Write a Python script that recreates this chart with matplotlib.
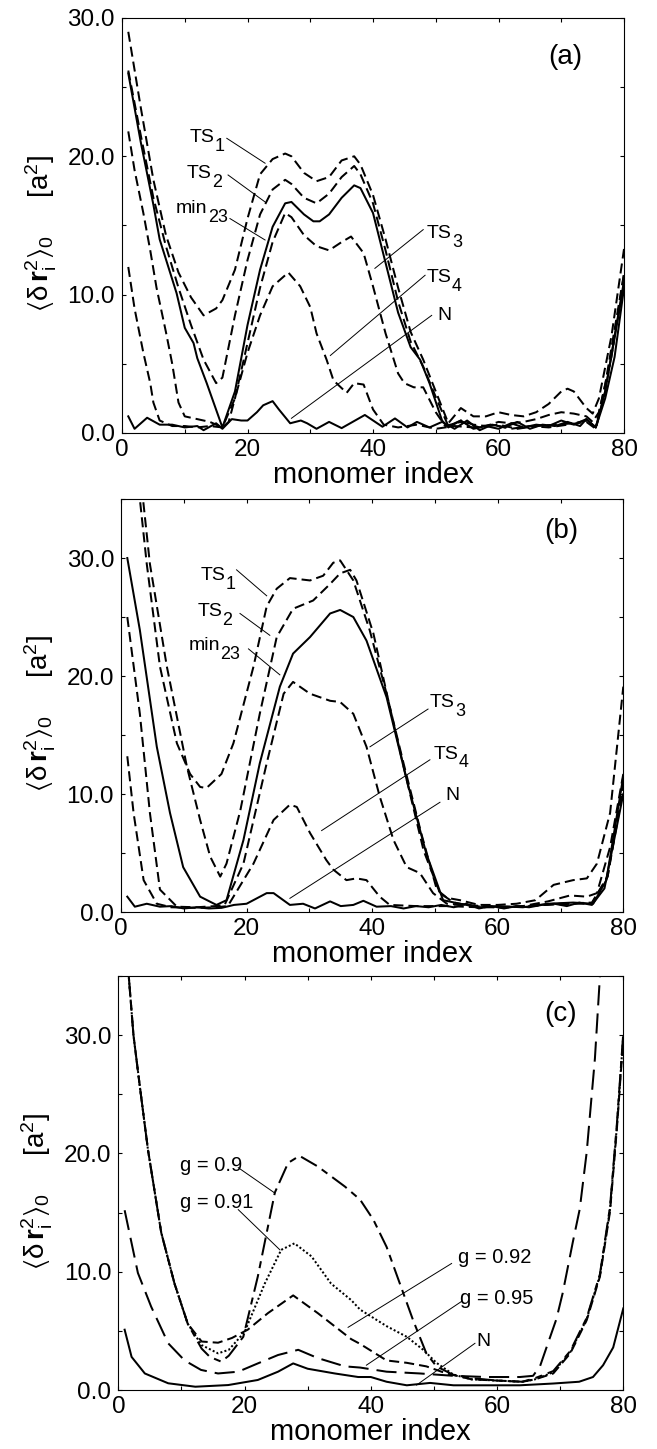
import matplotlib
matplotlib.use("Agg")
import matplotlib.pyplot as plt
from matplotlib.ticker import MultipleLocator, FormatStrFormatter

plt.rcParams["font.family"] = ["Liberation Sans", "DejaVu Sans"]
plt.rcParams["mathtext.fontset"] = "custom"
plt.rcParams["mathtext.rm"] = "Liberation Sans"
plt.rcParams["mathtext.bf"] = "Liberation Sans:bold"
plt.rcParams["mathtext.it"] = "Liberation Sans:italic"
plt.rcParams["mathtext.default"] = "regular"

# %% data ----------------------------------------------------------------
# panel (a)
a_ts1_x = [1, 3, 5, 7, 9, 11, 13, 15, 16, 18, 20, 22, 24, 26, 27, 29, 31, 33, 35, 37, 38,
           40, 42, 44, 46, 48, 50, 52, 54, 56, 58, 60, 62, 64, 66, 68, 70, 71, 72, 74, 75, 76, 78, 80]
a_ts1_y = [29.0, 23.5, 18.3, 14.3, 11.6, 9.8, 8.5, 9.0, 9.6, 11.8, 15.5, 18.7, 19.8, 20.2, 20.0,
           18.8, 18.2, 18.5, 19.7, 20.0, 19.4, 17.2, 14.0, 10.5, 7.3, 5.3, 3.0, 0.7, 1.8, 1.2, 1.2,
           1.5, 1.3, 1.2, 1.5, 2.1, 3.0, 3.2, 3.0, 1.8, 1.4, 2.5, 7.0, 13.3]
a_ts2_x = [1, 3, 5, 7, 9, 11, 13, 15, 16, 18, 20, 22, 24, 26, 27, 29, 31, 33, 35, 37, 38,
           40, 42, 44, 46, 48, 50, 52, 54, 56, 58, 60, 62, 64, 66, 68, 70, 72, 74, 75, 76, 78, 80]
a_ts2_y = [26.2, 21.5, 17.0, 13.5, 10.5, 7.8, 5.3, 3.6, 4.0, 8.5, 12.5, 15.8, 17.6, 18.3, 18.0,
           17.0, 16.6, 17.3, 18.5, 19.3, 18.7, 16.6, 13.2, 9.5, 6.6, 4.8, 2.6, 0.5, 0.9, 0.6, 0.5,
           0.8, 0.7, 0.8, 1.0, 1.3, 1.5, 1.4, 1.2, 0.8, 1.5, 5.5, 11.5]
a_min_x = [1, 3, 5, 6, 8.7, 10, 11.4, 12, 13.5, 16, 18, 20, 22, 24, 26, 27, 29, 30.5, 31.5, 33,
           35, 37, 38, 40, 42, 44, 46, 47.5, 49, 51, 52, 54, 56, 58, 60, 62, 64, 66, 68, 70, 72,
           74, 75.5, 77, 80]
a_min_y = [26.0, 21.0, 16.5, 14.0, 10.1, 7.6, 6.5, 5.4, 3.6, 0.4, 3.0, 7.8, 11.8, 14.9, 16.6,
           16.7, 15.8, 15.3, 15.3, 15.8, 17.0, 17.9, 17.7, 15.9, 12.3, 8.7, 6.2, 5.3, 3.6, 0.9,
           0.4, 0.9, 0.3, 0.5, 0.3, 0.7, 0.4, 0.6, 0.5, 0.9, 0.6, 1.0, 0.4, 3.0, 10.8]
a_ts3_x = [1, 2, 3.4, 4.5, 5.5, 7, 8, 9, 10, 12, 14, 16, 17, 18, 20, 22, 24, 26, 27, 29, 31,
           33, 35, 36.5, 38.5, 40, 42, 44, 45, 46.5, 48, 50, 51.5, 54, 57, 60, 63, 66, 69, 72,
           74, 75.5, 77, 80]
a_ts3_y = [21.8, 19.0, 15.9, 13.2, 10.5, 7.3, 5.0, 2.2, 1.2, 1.0, 0.8, 0.4, 0.8, 2.5, 6.5,
           10.5, 13.8, 15.9, 15.6, 14.3, 13.5, 13.2, 13.8, 14.2, 13.0, 10.6, 7.2, 4.3, 3.6, 3.3,
           3.3, 1.5, 0.5, 0.8, 0.4, 0.6, 0.3, 0.5, 0.6, 0.7, 0.9, 0.4, 3.5, 11.5]
a_ts4_x = [1, 2, 3.4, 4.5, 5, 6, 8, 10, 12, 14, 16, 18, 20, 22, 24, 26.5, 28.4, 30, 31, 32.6,
           33.7, 35.8, 37, 38.5, 40, 41.7, 44, 47, 50, 53, 56, 59, 62, 65, 68, 71, 74, 75.5, 77, 80]
a_ts4_y = [12.0, 9.0, 5.8, 3.6, 2.2, 0.9, 0.5, 0.5, 0.4, 0.5, 0.4, 2.5, 5.8, 8.5, 10.6, 11.6,
           10.6, 9.1, 7.2, 5.3, 3.8, 2.9, 3.6, 3.5, 1.7, 0.6, 0.4, 0.6, 0.3, 0.5, 0.4, 0.6, 0.3,
           0.5, 0.4, 0.6, 0.8, 0.3, 3.0, 11.0]
a_n_x = [1, 2, 4, 6, 8, 10, 12, 13, 15, 16, 17.5, 19, 20, 21.5, 22.5, 24, 25, 26.8, 28.5, 29.5,
         31, 33, 35, 38.7, 41.5, 43.5, 45.5, 47, 49, 51, 53, 55, 57, 59, 61, 63, 65, 67, 69, 71,
         73, 74, 75.5, 77, 78.5, 80]
a_n_y = [1.2, 0.3, 1.1, 0.6, 0.6, 0.4, 0.5, 0.2, 0.7, 0.3, 1.0, 0.9, 0.9, 1.5, 2.0, 2.3, 1.7,
         0.7, 0.9, 0.7, 0.3, 0.8, 0.35, 1.3, 0.45, 1.05, 0.4, 0.8, 0.4, 0.8, 0.3, 0.9, 0.2, 0.6,
         0.4, 0.8, 0.3, 0.6, 0.5, 0.8, 0.5, 1.0, 0.4, 2.5, 5.5, 10.5]

# panel (b)
b_ts1_x = [2.8, 4.1, 6.2, 8.9, 11, 12.6, 13.6, 16, 17.9, 21.1, 23.2, 24.8, 26.9, 30.1, 32.2,
           33.8, 34.9, 37, 39.6, 42.3, 45, 47.8, 50.3, 51.9, 54, 57, 60, 63, 66, 68.9, 72, 74.2,
           75.8, 77.9, 80]
b_ts1_y = [36.0, 29.5, 20.8, 14.3, 11.7, 10.6, 10.5, 11.7, 14.3, 20.8, 25.9, 27.4, 28.3, 28.1,
           28.5, 29.6, 29.8, 28.1, 23.9, 18.5, 12.6, 6.7, 1.9, 1.2, 1.0, 0.6, 0.6, 0.7, 1.0, 2.3,
           2.7, 2.85, 4.1, 8.4, 19.1]
b_ts2_x = [3.3, 4.6, 7.3, 10.5, 12.6, 14.2, 15.8, 16.8, 19, 22.1, 24.8, 27.4, 30.6, 33.3, 34.9,
           36.5, 37.5, 40.2, 42.8, 45.5, 48.2, 50.8, 53, 56, 60, 64, 68, 71.5, 74.2, 75.8, 77.9, 80]
b_ts2_y = [36.0, 29.5, 20.8, 12.3, 7.8, 4.7, 3.0, 4.1, 8.6, 16.8, 23.3, 25.7, 26.4, 27.8, 28.7,
           29.0, 28.1, 23.6, 17.4, 11.2, 5.2, 1.6, 0.8, 0.5, 0.4, 0.5, 0.9, 1.4, 1.3, 1.6, 5.5, 11.7]
b_min_x = [1, 3, 5.7, 7.8, 9.9, 12.6, 15.2, 16.8, 19.5, 22.1, 25.3, 27.4, 30.1, 33.3, 34.9, 37,
           39.1, 42.3, 45.5, 48.6, 51.3, 54, 57, 60, 64, 68, 72, 75.2, 77.3, 80]
b_min_y = [30.0, 23.9, 14.0, 8.4, 3.8, 1.3, 0.6, 1.0, 6.1, 12.6, 19.1, 21.9, 23.3, 25.3, 25.6,
           25.0, 23.0, 18.2, 11.2, 5.0, 1.0, 0.7, 0.4, 0.5, 0.4, 0.7, 0.8, 0.7, 2.7, 11.5]
b_ts3_x = [1, 3, 4.6, 6.2, 8.9, 12, 15, 16.5, 19.5, 23.2, 25.9, 27.4, 30.1, 33.3, 34.9, 37, 39.1,
           41.2, 43.4, 45.5, 47.6, 49.7, 51.9, 55, 60, 65, 70, 75, 77.5, 80]
b_ts3_y = [25.0, 16.8, 8.4, 1.9, 0.45, 0.4, 0.5, 0.6, 4.1, 12.6, 18.5, 19.5, 18.5, 17.9, 17.8,
           16.8, 14.0, 9.8, 6.1, 3.8, 3.3, 1.6, 0.7, 0.6, 0.4, 0.5, 0.7, 0.8, 3.0, 11.0]
b_ts4_x = [1, 2, 3.6, 5.7, 8, 12, 15, 17, 21.1, 24.3, 26.9, 28, 30.1, 32.7, 33.8, 35.9, 37.5,
           39.1, 41.2, 42.8, 47, 52, 57, 62, 67, 72, 75, 77.5, 80]
b_ts4_y = [13.2, 8.4, 2.7, 0.7, 0.4, 0.35, 0.4, 0.5, 4.1, 7.8, 9.1, 8.9, 6.7, 4.4, 3.6, 2.7,
           2.85, 2.7, 1.3, 0.6, 0.5, 0.5, 0.4, 0.4, 0.6, 0.7, 0.7, 3.0, 10.5]
b_n_x = [1, 2.2, 4.1, 6.2, 8, 10, 12, 14, 16, 18, 20, 23.2, 24.3, 26.9, 29, 30.9, 33.3, 35, 37,
         38.6, 40.7, 43, 45, 47, 49, 51, 53, 55, 57, 59, 61, 63, 65, 67, 69, 71, 73, 75, 77, 80]
b_n_y = [1.3, 0.45, 0.7, 0.45, 0.5, 0.3, 0.4, 0.3, 0.35, 0.6, 0.7, 1.6, 1.6, 0.6, 0.7, 0.3, 0.9,
         0.5, 0.6, 0.95, 0.45, 0.5, 0.3, 0.5, 0.4, 0.6, 0.4, 0.7, 0.3, 0.5, 0.3, 0.5, 0.4, 0.6,
         0.7, 0.5, 0.8, 0.6, 2.0, 10.0]

# panel (c)
c_g090_x = [1.2, 2.4, 3.4, 4.7, 6.8, 8.9, 11.0, 13.2, 14.5, 16.3, 17.5, 19.8, 22.1, 24.8, 26.9,
            28.7, 31.6, 35.9, 38.3, 40.4, 42.5, 44.6, 46.7, 48.8, 50.4, 53, 56, 60, 64, 66,
            68.9, 71.6, 74.2, 76.3, 77.9, 79, 80]
c_g090_y = [38.0, 30.0, 25.7, 20.3, 13.3, 9.0, 5.6, 3.5, 2.8, 2.4, 2.9, 4.5, 9.6, 16.7, 19.2,
            19.8, 18.9, 17.2, 16.1, 14.4, 12.1, 9.0, 5.9, 3.1, 2.0, 1.3, 1.0, 0.8, 0.7, 1.0, 1.6,
            3.3, 6.1, 9.8, 15.5, 22.6, 30.2]
c_g091_x = [1.2, 2.4, 3.4, 4.7, 6.8, 8.9, 11.0, 13.2, 15.8, 17.5, 20, 23.2, 25.8, 27.9, 30.6,
            33.7, 36.9, 38.3, 42.5, 45.7, 48.3, 50.4, 53.1, 56, 60, 64, 66, 68.9, 71.6, 74.2,
            76.3, 77.9, 79, 80]
c_g091_y = [38.0, 30.0, 25.7, 20.3, 13.3, 9.0, 5.6, 3.8, 3.1, 3.4, 4.9, 9.0, 11.85, 12.4, 11.3,
            9.0, 7.6, 6.8, 5.4, 4.5, 3.4, 2.3, 1.3, 0.9, 0.8, 0.7, 0.9, 1.5, 3.2, 6.0, 9.7, 15.3,
            22.4, 30.0]
c_g092_x = [1.2, 2.4, 3.4, 4.7, 6.8, 8.9, 11.0, 13.2, 15.8, 18, 20.5, 23.7, 27.7, 31.6, 36.9,
            38.3, 42.5, 45.7, 48.8, 52, 56, 60, 64, 66, 68.9, 71.6, 74.2, 76.3, 77.9, 79, 80]
c_g092_y = [38.0, 30.0, 25.7, 20.3, 13.3, 9.0, 5.6, 4.1, 4.0, 4.4, 5.1, 6.5, 8.0, 6.5, 4.3, 3.9,
            2.5, 2.3, 2.0, 1.4, 0.9, 0.8, 0.7, 0.9, 1.4, 3.1, 5.9, 9.6, 15.1, 22.2, 29.8]
c_g095_x = [1, 3.1, 5.2, 7.9, 10.5, 13.1, 15.8, 19, 22.1, 25.3, 28.5, 31.6, 35.9, 38.3, 42.5,
            47.8, 53.1, 58.3, 63.6, 65.7, 66.8, 67.9, 69.4, 70.4, 72, 73.1, 74.2, 75.5, 76.3, 76.8]
c_g095_y = [15.2, 9.9, 7.05, 3.95, 2.5, 1.7, 1.4, 1.55, 2.25, 2.96, 3.4, 2.7, 2.0, 1.9, 1.55,
            1.4, 1.2, 1.1, 1.1, 1.2, 2.0, 3.7, 6.0, 8.2, 12.5, 15.3, 20.1, 28.0, 35.0, 39.0]
c_n_x = [1, 2.1, 4.2, 7.9, 12.2, 17.4, 22.1, 25.3, 27.7, 30, 34.3, 38, 40, 42.5, 45.7, 49.4,
         53.1, 58.3, 63.6, 68.9, 73, 75.2, 76.8, 78.4, 80]
c_n_y = [5.1, 2.8, 1.4, 0.57, 0.28, 0.42, 0.85, 1.55, 2.25, 1.8, 1.4, 1.1, 1.1, 0.7, 0.4, 0.6,
         0.4, 0.4, 0.4, 0.55, 0.7, 1.1, 2.1, 3.6, 6.9]

# %% styles ---------------------------------------------------------------
LW = 1.45
DASH = (5, 2.5)
ylabel = r"$\langle\delta\,\mathbf{r}_{i}^{2}\rangle_{0}$     [a$^{2}$]"

fig = plt.figure(figsize=(6.57, 14.49), dpi=100)
ax_a = fig.add_axes([0.1857, 0.7012, 0.7641, 0.2864])
ax_b = fig.add_axes([0.1842, 0.3706, 0.7645, 0.2850])
ax_c = fig.add_axes([0.1801, 0.0407, 0.7686, 0.2857])


def style_axes(ax, ymax):
    ax.set_xlim(0, 80)
    ax.set_ylim(0, ymax)
    ax.xaxis.set_major_locator(MultipleLocator(20))
    ax.xaxis.set_minor_locator(MultipleLocator(10))
    ax.yaxis.set_major_locator(MultipleLocator(10))
    ax.yaxis.set_minor_locator(MultipleLocator(5))
    ax.yaxis.set_major_formatter(FormatStrFormatter("%.1f"))
    ax.tick_params(which="both", direction="in", top=True, right=True, length=3, width=0.8)
    ax.tick_params(axis="y", labelsize=17.5, pad=5)
    ax.tick_params(axis="x", labelsize=17.5, pad=4)
    for s in ax.spines.values():
        s.set_linewidth(0.8)
    ax.set_xlabel("monomer index", fontsize=21)
    ax.xaxis.set_label_coords(0.5, -0.068)
    ax.set_ylabel(ylabel, fontsize=20)
    ax.yaxis.set_label_coords(-0.125, 0.48)


def sub_label(ax, x, y, main, sub, size=14):
    t = ax.text(x, y, main, fontsize=size, ha="left", va="baseline")
    ax.annotate(sub, xy=(1, 0), xycoords=t, xytext=(0.3, -3.5), textcoords="offset points",
                fontsize=size * 0.92, ha="left", va="baseline")


def leader(ax, x0, y0, x1, y1):
    ax.plot([x0, x1], [y0, y1], color="black", lw=0.7)


# %% panel (a)
ax = ax_a
ax.plot(a_ts1_x, a_ts1_y, color="black", lw=LW, dashes=DASH)
ax.plot(a_ts2_x, a_ts2_y, color="black", lw=LW, dashes=DASH)
ax.plot(a_min_x, a_min_y, color="black", lw=LW)
ax.plot(a_ts3_x, a_ts3_y, color="black", lw=LW, dashes=DASH)
ax.plot(a_ts4_x, a_ts4_y, color="black", lw=LW, dashes=DASH)
ax.plot(a_n_x, a_n_y, color="black", lw=LW)
style_axes(ax, 30)

sub_label(ax, 10.8, 21.0, "TS", "1")
leader(ax, 16.7, 21.3, 22.8, 19.5)
sub_label(ax, 10.3, 18.4, "TS", "2")
leader(ax, 16.9, 18.65, 22.8, 16.7)
sub_label(ax, 8.6, 15.9, "min", "23")
leader(ax, 17.2, 15.5, 22.8, 13.95)
sub_label(ax, 48.55, 14.1, "TS", "3")
leader(ax, 48.0, 14.7, 40.3, 11.9)
sub_label(ax, 48.55, 10.9, "TS", "4")
leader(ax, 48.3, 11.4, 33.2, 5.6)
ax.text(50.25, 8.2, "N", fontsize=14, ha="left", va="baseline")
leader(ax, 49.35, 8.5, 27.0, 1.06)
ax.text(70.6, 27.2, "(a)", fontsize=20, ha="center", va="center")

# %% panel (b)
ax = ax_b
ax.plot(b_ts1_x, b_ts1_y, color="black", lw=LW, dashes=DASH)
ax.plot(b_ts2_x, b_ts2_y, color="black", lw=LW, dashes=DASH)
ax.plot(b_min_x, b_min_y, color="black", lw=LW)
ax.plot(b_ts3_x, b_ts3_y, color="black", lw=LW, dashes=DASH)
ax.plot(b_ts4_x, b_ts4_y, color="black", lw=LW, dashes=DASH)
ax.plot(b_n_x, b_n_y, color="black", lw=LW)
style_axes(ax, 35)

sub_label(ax, 12.6, 28.1, "TS", "1")
leader(ax, 18.4, 29.0, 23.2, 26.8)
sub_label(ax, 12.15, 25.1, "TS", "2")
leader(ax, 18.95, 25.3, 23.7, 23.45)
sub_label(ax, 10.7, 22.2, "min", "23")
leader(ax, 20.3, 22.3, 25.3, 20.1)
sub_label(ax, 49.2, 17.4, "TS", "3")
leader(ax, 48.9, 17.2, 39.65, 14.0)
sub_label(ax, 49.8, 13.0, "TS", "4")
leader(ax, 49.2, 12.9, 31.95, 6.9)
ax.text(51.6, 9.5, "N", fontsize=14, ha="left", va="baseline")
leader(ax, 50.8, 9.3, 26.9, 1.16)
ax.text(70.2, 32.3, "(b)", fontsize=20, ha="center", va="center")

# %% panel (c)
ax = ax_c
ax.plot(c_g090_x, c_g090_y, color="black", lw=LW, dashes=(9, 3, 3.5, 3))
ax.plot(c_g091_x, c_g091_y, color="black", lw=LW, dashes=(1, 1.1))
ax.plot(c_g092_x, c_g092_y, color="black", lw=LW, dashes=DASH)
ax.plot(c_g095_x, c_g095_y, color="black", lw=LW, dashes=(10, 4))
ax.plot(c_n_x, c_n_y, color="black", lw=LW)
style_axes(ax, 35)

ax.text(9.8, 18.5, "g = 0.9", fontsize=14.5, ha="left", va="baseline")
leader(ax, 19.0, 18.8, 24.8, 16.65)
ax.text(9.8, 15.4, "g = 0.91", fontsize=14.5, ha="left", va="baseline")
leader(ax, 19.0, 15.25, 25.6, 11.85)
ax.text(53.85, 10.7, "g = 0.92", fontsize=14.5, ha="left", va="baseline")
leader(ax, 52.8, 10.7, 36.4, 5.3)
ax.text(54.1, 7.3, "g = 0.95", fontsize=14.5, ha="left", va="baseline")
leader(ax, 54.4, 7.5, 39.3, 2.1)
ax.text(56.8, 3.7, "N", fontsize=14, ha="left", va="baseline")
leader(ax, 56.5, 3.95, 47.25, 0.42)
ax.text(70.1, 31.75, "(c)", fontsize=20, ha="center", va="center")

fig.savefig("out.png", dpi=100)
